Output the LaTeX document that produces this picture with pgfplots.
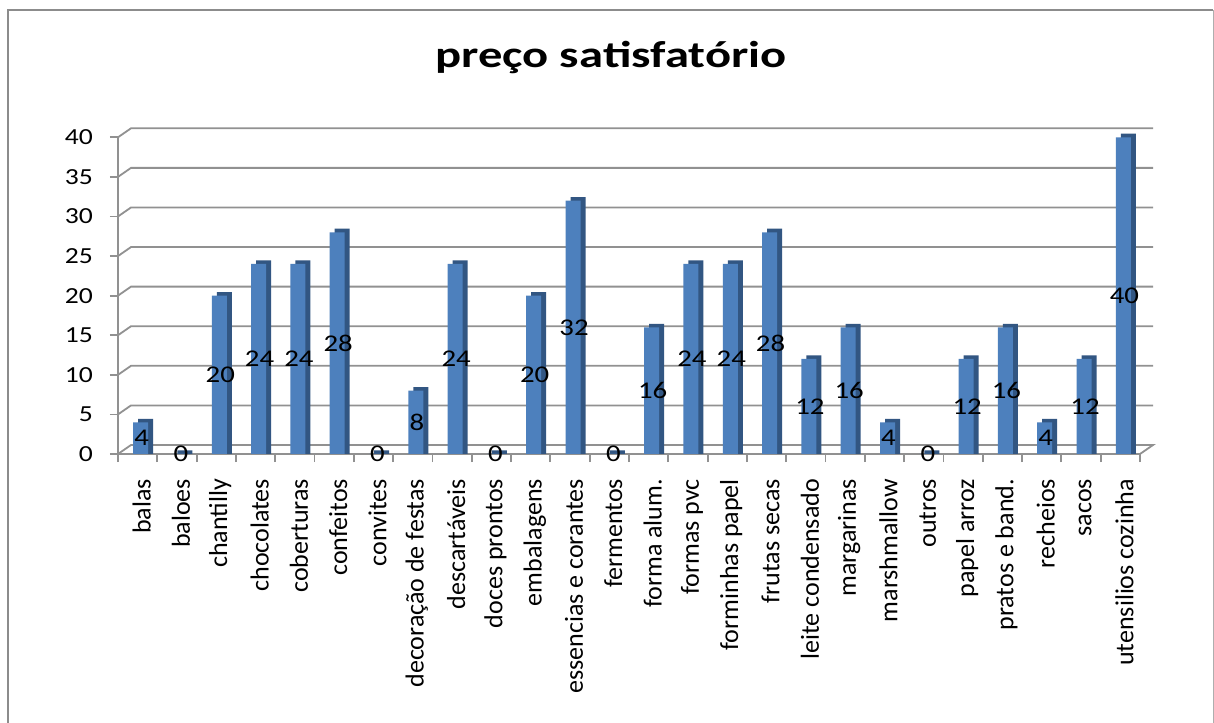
\documentclass[border=0pt]{standalone}
\usepackage{fontspec}
\setmainfont{Carlito}
\newfontfamily\sfont[FakeStretch=1.2]{Carlito}
\newfontfamily\tfont[FakeStretch=1.3]{Carlito}
\usepackage{pgfplots}
\usepackage{pgfplotstable}
\pgfplotsset{compat=1.18}
\definecolor{barfront}{RGB}{77,128,189}
\definecolor{barside}{RGB}{50,86,130}
\definecolor{gridgray}{RGB}{145,145,145}
\definecolor{framegray}{RGB}{140,140,140}

\pgfplotstableread{
i v
0 4
1 0
2 20
3 24
4 24
5 28
6 0
7 8
8 24
9 0
10 20
11 32
12 0
13 16
14 24
15 24
16 28
17 12
18 16
19 4
20 0
21 12
22 16
23 4
24 12
25 40
}\datatable

\begin{document}
\begin{tikzpicture}
\useasboundingbox (0,0) rectangle (607pt,361pt);
\fill[white] (0,0) rectangle (607pt,361pt);
\draw[framegray, line width=1pt] (3.8pt,-2pt) -- (3.8pt,356pt) -- (606.6pt,356pt);
\draw[framegray!70, line width=0.6pt] (606.6pt,356pt) -- (606.6pt,-2pt);
\node[anchor=base, font=\tfont\bfseries\fontsize{18.7}{22}\selectfont] at (305.5pt,327pt) {preço satisfatório};
\begin{axis}[
  at={(59pt,134pt)}, anchor=south west,
  scale only axis, width=511pt, height=158.35pt,
  xmin=-0.5, xmax=25.5, ymin=0, ymax=40,
  clip=false,
  axis x line*=bottom, axis y line*=left,
  axis line style={gridgray, line width=0.9pt, -},
  ytick={0,5,...,40},
  xtick={0,1,...,25},
  minor xtick={-0.5,0.5,...,25.5},
  tick align=outside,
  major tick length=4pt, minor tick length=4pt,
  major x tick style={draw=none},
  minor x tick style={draw=gridgray, line width=0.9pt},
  major y tick style={draw=gridgray, line width=0.9pt},
  /pgf/number format/assume math mode=true,
  yticklabel style={font=\sfont\fontsize{11.5}{13}\selectfont, xshift=-5pt},
  xticklabel style={font=\fontsize{13}{15}\selectfont, rotate=90, anchor=east, yshift=-2pt, xshift=-5pt},
  xticklabels={balas, baloes, chantilly, chocolates, coberturas, confeitos, convites, decoração de festas, descartáveis, doces prontos, embalagens, essencias e corantes, fermentos, forma alum., formas pvc, forminhas papel, frutas secas, leite condensado, margarinas, marshmallow, outros, papel arroz, pratos e band., recheios, sacos, utensilios cozinha},
]
\pgfplotsinvokeforeach{5,10,...,40}{
  \draw[gridgray, line width=0.9pt] (axis cs:-0.5,#1) -- ++(6.5pt,4.5pt) -- ([shift={(6.5pt,4.5pt)}]axis cs:25.5,#1);
}
\draw[gridgray, line width=0.9pt] (axis cs:-0.5,0) -- ++(6.5pt,4.5pt) -- ([shift={(6.5pt,4.5pt)}]axis cs:25.5,0) -- (axis cs:25.5,0);
\addplot[ybar, bar width=7.5pt, bar shift=4pt, fill=barside, draw=none]
  table[x=i, y expr=\thisrow{v}+0.45] {\datatable};
\addplot[ybar, bar width=7.5pt, bar shift=1.5pt, fill=barfront, draw=none]
  table[x=i, y=v] {\datatable};
\addplot[draw=none, mark=none, nodes near coords, point meta=explicit symbolic,
  every node near coord/.append style={anchor=center, xshift=2pt, font=\sfont\fontsize{12}{14}\selectfont, text=black}]
  table[x=i, y expr=\thisrow{v}/2, meta=v] {\datatable};
\end{axis}
\end{tikzpicture}
\end{document}
